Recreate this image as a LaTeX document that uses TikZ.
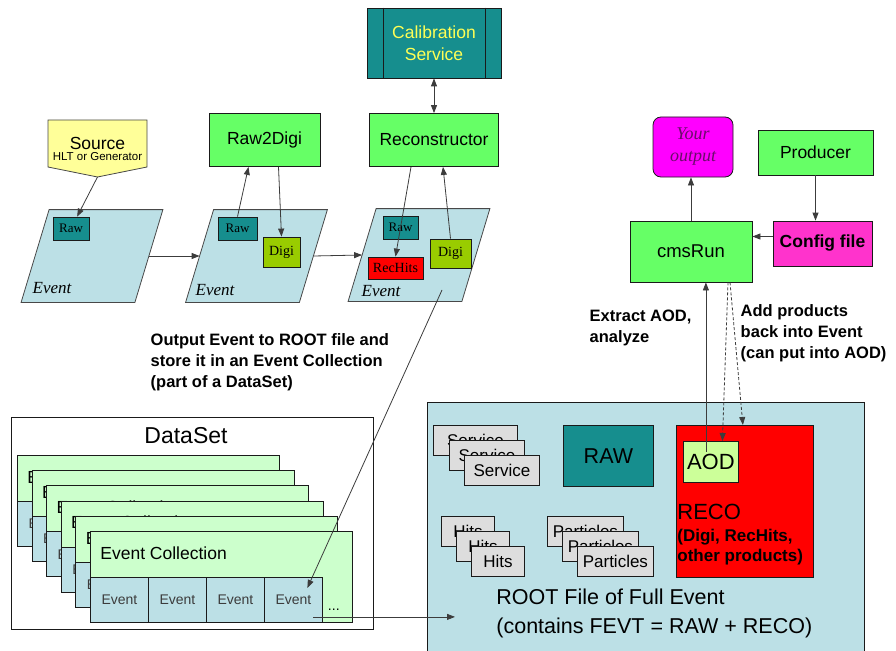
\documentclass[tikz,border=0pt]{standalone}
\usepackage{fontspec}
\setmainfont{Liberation Sans}
\newfontfamily\timesfont{Liberation Serif}
\usepackage{tikz}
\usetikzlibrary{arrows.meta,calc}
\definecolor{ink}{HTML}{1A1A1A}
\definecolor{procgreen}{HTML}{66FF66}
\definecolor{calteal}{HTML}{168E8E}
\definecolor{calyellow}{HTML}{FFFF55}
\definecolor{evblue}{HTML}{BCE0E6}
\definecolor{digigreen}{HTML}{99CC00}
\definecolor{collgreen}{HTML}{CCFFCC}
\definecolor{aodgreen}{HTML}{CCFF99}
\definecolor{srcyellow}{HTML}{FFFF99}
\definecolor{outmagenta}{HTML}{FF00FF}
\definecolor{outtext}{HTML}{6A0D6A}
\definecolor{cfgpink}{HTML}{FF33CC}
\definecolor{stackgray}{HTML}{DDDDDD}
\newcommand{\pxsize}[2]{\fontsize{#1}{#2}\selectfont}

\begin{document}
\begin{tikzpicture}[
  x=1pt, y=-1pt,
  line width=0.8pt,
  proc/.style={draw=ink, fill=procgreen, inner sep=0pt, align=center,
    font=\pxsize{17.5pt}{21pt}},
  evarea/.style={inner sep=0pt, minimum width=113, minimum height=92},
  evshape/.style={draw=ink!80, fill=evblue},
  evlabel/.style={anchor=west, font=\timesfont\itshape\pxsize{17pt}{19pt}},
  rawbox/.style={draw=ink, fill=calteal, inner sep=0pt, minimum height=23,
    font=\timesfont\pxsize{13pt}{15pt}},
  digibox/.style={draw=ink, fill=digigreen, inner sep=0pt,
    font=\timesfont\pxsize{14pt}{16pt}},
  stackbox/.style={draw=ink, fill=stackgray, inner sep=0pt,
    minimum height=30, font=\pxsize{17pt}{19pt}},
  card/.style={draw=ink, fill=collgreen, inner sep=0pt,
    minimum width=262, minimum height=91},
  cell/.style={draw=ink, fill=evblue, inner sep=0pt, minimum width=58,
    minimum height=45, text=ink!85, font=\pxsize{14pt}{16pt}},
  note/.style={anchor=north west, align=left,
    font=\bfseries\pxsize{16.5pt}{21pt}},
  flow/.style={-{Triangle[length=8pt,width=6pt]}, draw=ink!85},
  backflow/.style={flow, dash pattern=on 3pt off 2pt},
]
  \useasboundingbox (0,0) rectangle (896,650);

  % source and event chain
  \draw[draw=ink!80, fill=srcyellow] (48,120) -- (147,120) -- (147,167)
    -- (97.5,177) -- (48,167) -- cycle;
  \node[align=center, inner sep=0pt] (src) at (97.5,149)
    {{\pxsize{17.5pt}{18pt}Source}\\[-1pt]{\pxsize{11.5pt}{13pt}HLT or Generator}};
  \coordinate (srctip) at (97.5,177);

  \node[evarea] (ev1) at (92,256) {};
  \node[evarea] (ev2) at (256.5,256) {};
  \node[evarea] (ev3) at (419,255) {};
  \foreach \e in {ev1,ev2,ev3}
    \draw[evshape] ($(\e.south west)+(-14,0)$) -- ($(\e.south east)+(-14,0)$)
      -- ($(\e.north east)+(14,0)$) -- ($(\e.north west)+(14,0)$) -- cycle;
  \node[evlabel] at (29,288) {Event};
  \node[evlabel] at (192,290) {Event};
  \node[evlabel] at (358,291) {Event};

  \node[rawbox, minimum width=36] (raw1) at (71,228.5) {Raw};
  \node[rawbox, minimum width=39] (raw2) at (237.5,228.5) {Raw};
  \node[rawbox, minimum width=35] (raw3) at (400.5,227.5) {Raw};
  \node[digibox, minimum width=37, minimum height=30] (digi2) at (281.5,252) {Digi};
  \node[digibox, minimum width=41, minimum height=29] (digi3) at (450.5,253.5) {Digi};
  \node[draw=ink, fill=red, inner sep=0pt, minimum width=55, minimum height=22,
    font=\timesfont\pxsize{14pt}{16pt}] (rechits) at (395.5,268) {RecHits};

  % producers
  \node[proc, minimum width=111, minimum height=53] (r2d) at (264.5,140) {Raw2Digi};
  \node[proc, minimum width=129, minimum height=53] (reco) at (434,140) {Reconstructor};
  \node[draw=ink, fill=calteal, text=calyellow, align=center, inner sep=0pt,
    minimum width=134, minimum height=70, font=\pxsize{17.5pt}{22pt}]
    (cal) at (434,43) {Calibration\\Service};
  \draw[draw=ink] ([xshift=17pt]cal.north west) -- ([xshift=17pt]cal.south west);
  \draw[draw=ink] ([xshift=-16pt]cal.north east) -- ([xshift=-16pt]cal.south east);

  \draw[flow] (srctip) -- (raw1);
  \draw[flow] (ev1.east) -- (ev2.west);
  \draw[flow] (ev2.east) -- (ev3.west);
  \draw[flow] (raw2.north) -- ([xshift=-16pt]r2d.south);
  \draw[flow] ([xshift=14pt]r2d.south) -- (digi2.north);
  \draw[flow] ([xshift=-23pt]reco.south) -- (rechits.north);
  \draw[flow] (digi3.north) -- ([xshift=9pt]reco.south);
  \draw[{Triangle[length=8pt,width=6pt]}-{Triangle[length=8pt,width=6pt]}, draw=ink!85]
    (cal.south) -- (reco.north);

  % cmsRun side
  \node[draw=ink, fill=outmagenta, rounded corners=8pt, align=center,
    minimum width=80, minimum height=60, inner sep=0pt, text=outtext,
    font=\timesfont\itshape\pxsize{18pt}{22pt}] (yourout) at (693,147) {Your\\output};
  \node[proc, minimum width=115, minimum height=45] (prod) at (815.5,152.5) {Producer};
  \node[draw=ink, fill=cfgpink, inner sep=0pt, minimum width=99, minimum height=45,
    font=\bfseries\pxsize{17.5pt}{20pt}] (cfg) at (822.5,243.5) {Config file};
  \node[proc, minimum width=122, minimum height=61, font=\pxsize{18.5pt}{21pt}]
    (cmsrun) at (691,251.5) {cmsRun};

  \draw[flow] (cmsrun.north) -- (cmsrun.north |- yourout.south);
  \draw[flow] (prod.south) -- (prod.south |- cfg.north);
  \draw[flow] ([yshift=7pt]cfg.west) -- ([yshift=7pt]cfg.west -| cmsrun.east);

  \node[note] (extract) at (586,306) {Extract AOD,\\analyze};
  \node[note] (addprod) at (737,301) {Add products\\back into Event\\(can put into AOD)};
  \node[note] (store) at (147,330)
    {Output Event to ROOT file and\\store it in an Event Collection\\(part of a DataSet)};

  % ROOT file of full event
  \node[draw=ink, fill=evblue, anchor=north west, inner sep=0pt,
    minimum width=437, minimum height=250] (rootf) at (427,402) {};
  \foreach \x/\y/\w [count=\k] in {433/425/84, 449/440/75, 464/455/75}
    \node[stackbox, minimum width=\w, anchor=north west] (svc\k) at (\x,\y) {Service};
  \foreach \x/\y [count=\k] in {441/516, 456/531, 471/546}
    \node[stackbox, minimum width=53, anchor=north west] (hits\k) at (\x,\y) {Hits};
  \foreach \x/\y [count=\k] in {547/516, 562/531, 577/546}
    \node[stackbox, minimum width=76, anchor=north west] (part\k) at (\x,\y) {Particles};
  \node[draw=ink, fill=calteal, anchor=north west, inner sep=0pt, minimum width=90,
    minimum height=61, font=\pxsize{21.5pt}{24pt}] (rawbig) at (563,425) {RAW};
  \node[draw=ink, fill=red, anchor=north west, inner sep=0pt, minimum width=137,
    minimum height=152] (recobox) at (676,425) {};
  \node[draw=ink, fill=aodgreen, anchor=north west, inner sep=0pt, minimum width=55,
    minimum height=41, font=\pxsize{22pt}{24pt}] (aod) at (683,441) {AOD};
  \node[anchor=west, inner sep=0pt, font=\pxsize{22pt}{24pt}] (recolbl) at (677,512) {RECO};
  \node[anchor=north west, align=left, inner sep=0pt, font=\bfseries\pxsize{17pt}{20pt}]
    (recolist) at (677,529) {(Digi, RecHits,\\other products)};
  \node[anchor=north west, align=left, inner sep=0pt, font=\pxsize{21.5pt}{29pt}]
    (rootlbl) at (496,589) {ROOT File of Full Event\\(contains FEVT = RAW + RECO)};

  % dataset with its event collections
  \node[draw=ink, fill=white, anchor=north west, inner sep=0pt, minimum width=362,
    minimum height=212] (dataset) at (11,417) {};
  \node[font=\pxsize{23pt}{25pt}] at (186,436) {DataSet};
  \foreach \i in {0,...,5} {
    \pgfmathsetmacro{\cx}{17+14.6*\i}
    \pgfmathsetmacro{\cy}{455+15.2*\i}
    \node[card, anchor=north west] (card\i) at (\cx,\cy) {};
    \node[anchor=west, inner sep=0pt, font=\pxsize{17.5pt}{20pt}]
      at ($(card\i.north west)+(10,22)$) {Event Collection};
    \foreach \j in {1,...,4}
      \node[cell, anchor=south west] (cell\i\j)
        at ($(card\i.south west)+({58*(\j-1)},0)$) {Event};
    \node[anchor=base, inner sep=0pt, font=\pxsize{14pt}{16pt}]
      at ($(card\i.south east)+(-19,-12)$) {...};
  }

  % file output and AOD traffic
  \coordinate (evout) at ($(ev3.center)+(23,35)$);
  \coordinate (evin) at ($(cell54.center)+(14,-12)$);
  \coordinate (dotout) at ($(cell54.center)+(20,17)$);
  \coordinate (rootin) at ($(rootf.north west)+(28,214)$);
  \draw[flow] (evout) -- (evin);
  \draw[flow] (dotout) -- (dotout -| rootin);

  \coordinate (aodx) at ([xshift=-5pt,yshift=10pt]aod.center);
  \draw[flow] (aodx) -- (aodx |- cmsrun.south);
  \draw[backflow] ([xshift=37pt]cmsrun.south) -- ([xshift=11.5pt]aod.north);
  \draw[backflow] ([xshift=39pt]cmsrun.south) -- ([xshift=-2pt]recobox.north);
\end{tikzpicture}
\end{document}
